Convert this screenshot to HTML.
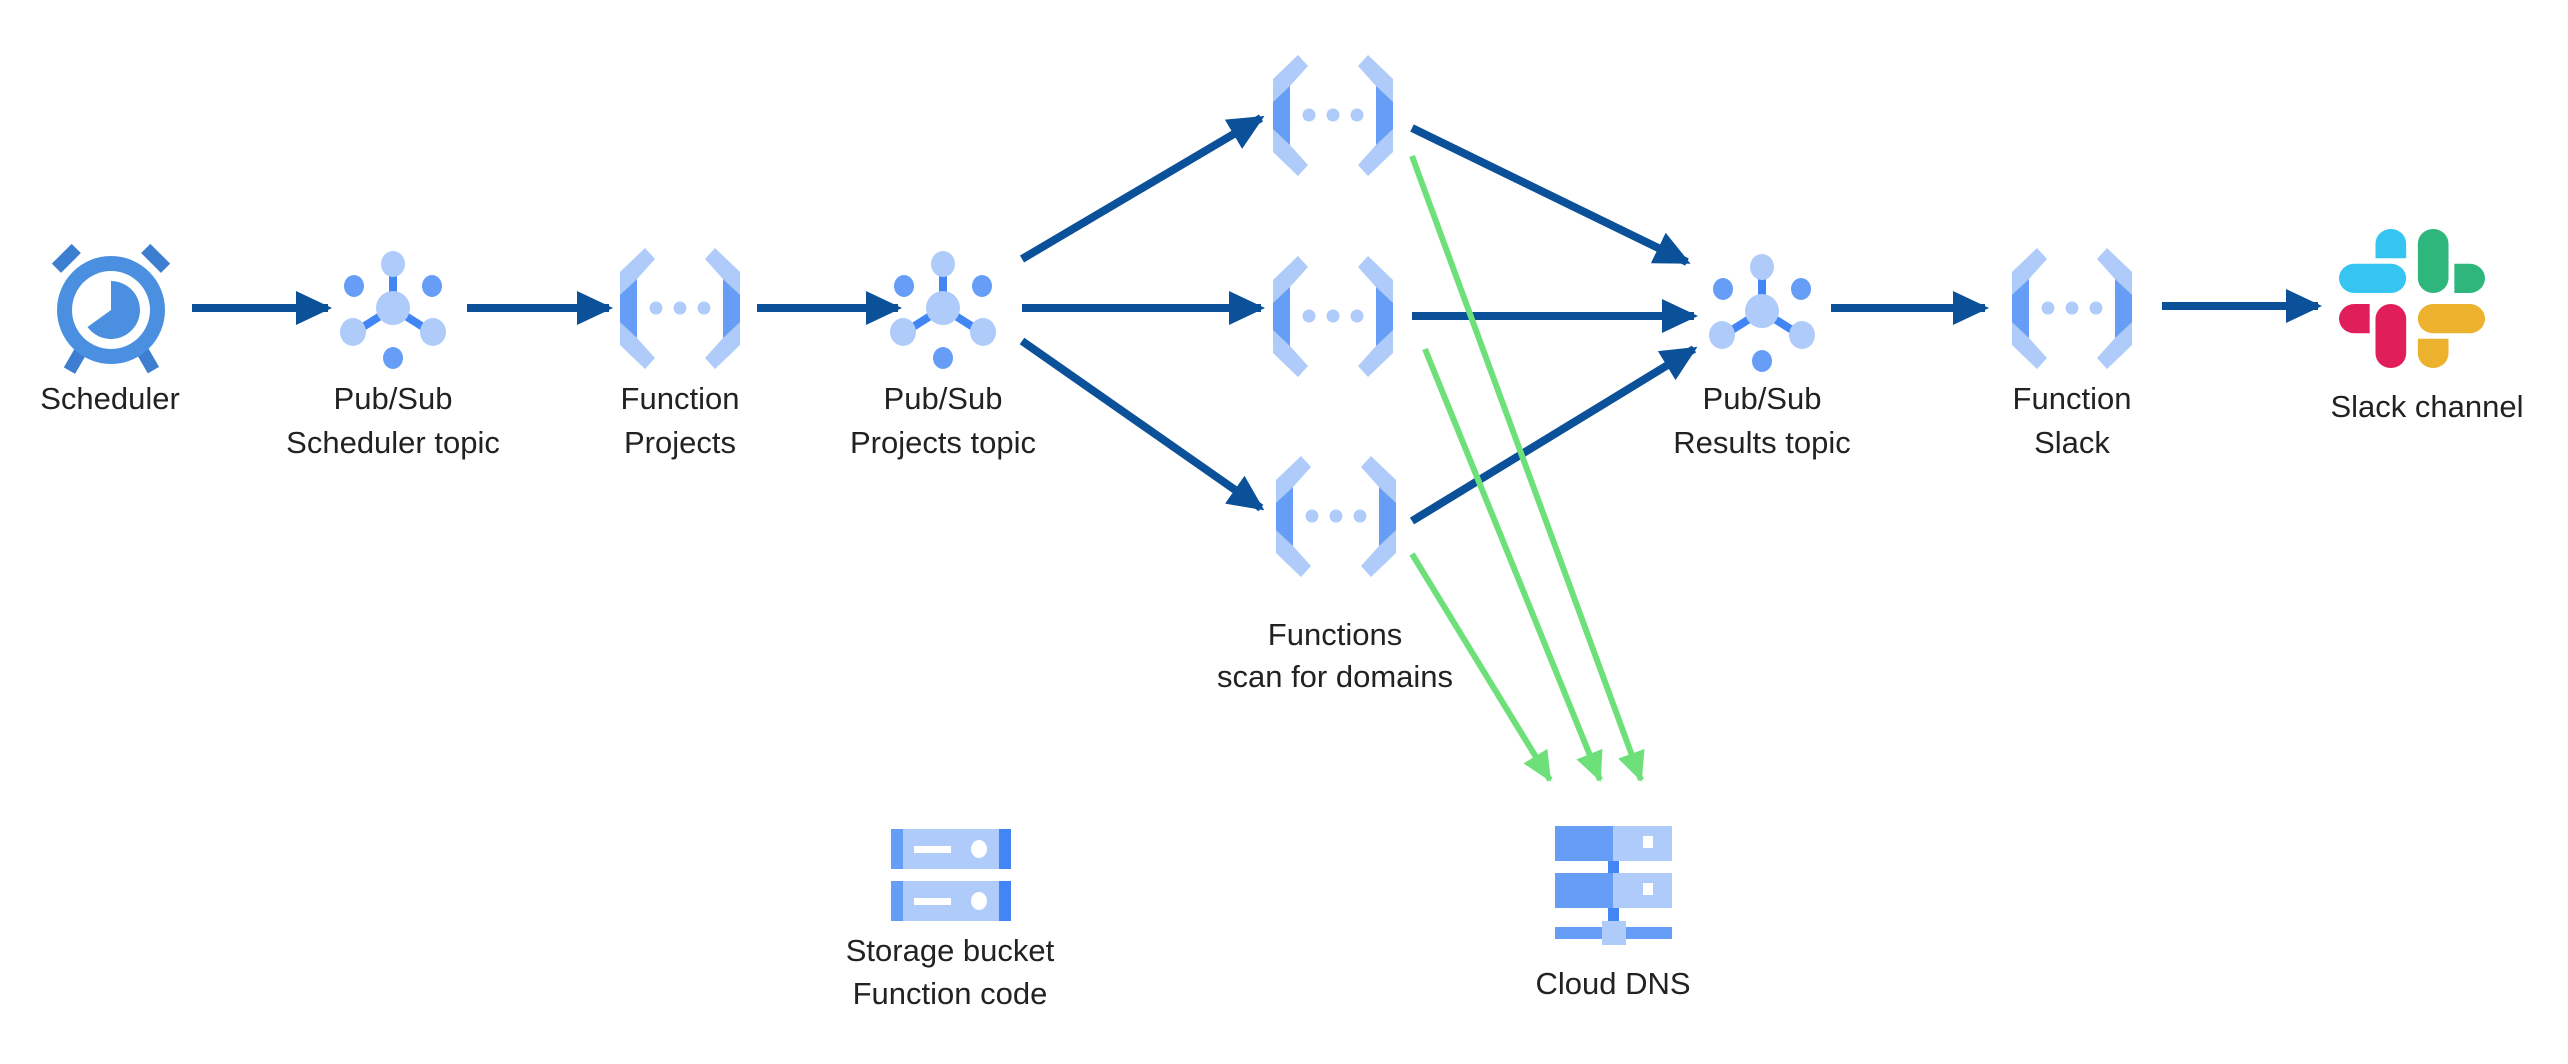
<!DOCTYPE html>
<html><head><meta charset="utf-8"><style>
html,body{margin:0;padding:0;background:#fff;}
svg{display:block;}
text{font-family:"Liberation Sans",sans-serif;font-size:31px;fill:#222;text-anchor:middle;}
</style></head><body>
<svg width="2568" height="1064" viewBox="0 0 2568 1064" xmlns="http://www.w3.org/2000/svg">
<defs>
<marker id="ab" markerUnits="userSpaceOnUse" markerWidth="44" markerHeight="40" refX="32" refY="17" orient="auto"><path d="M0,0 L36,17 L0,34 Z" fill="#0b5199"/></marker>
<marker id="ag" markerUnits="userSpaceOnUse" markerWidth="40" markerHeight="40" refX="28" refY="14" orient="auto"><path d="M0,0 L30,14 L0,28 Z" fill="#6ee07a"/></marker>
<g id="fn">
<polygon points="-60,-36 -35,-60 -25,-49 -43,-29 -43,30 -25,50 -35,61 -60,37" fill="#aecbfa"/>
<polygon points="-43,-29 -60,-13 -60,14 -43,30" fill="#669df6"/>
<polygon points="60,-36 35,-60 25,-49 43,-29 43,30 25,50 35,61 60,37" fill="#aecbfa"/>
<polygon points="43,-29 60,-13 60,14 43,30" fill="#669df6"/>
<circle cx="-24" cy="0" r="6.5" fill="#aecbfa"/><circle cx="0" cy="0" r="6.5" fill="#aecbfa"/><circle cx="24" cy="0" r="6.5" fill="#aecbfa"/>
</g>
<g id="ps">
<rect x="-4" y="-34" width="8" height="20" fill="#4285f4"/>
<line x1="0" y1="0" x2="-38" y2="24" stroke="#4285f4" stroke-width="8"/>
<line x1="0" y1="0" x2="38" y2="24" stroke="#4285f4" stroke-width="8"/>
<circle cx="0" cy="0" r="17" fill="#aecbfa"/>
<ellipse cx="0" cy="-44" rx="12" ry="13" fill="#aecbfa"/>
<ellipse cx="-39" cy="-22" rx="10" ry="11" fill="#669df6"/>
<ellipse cx="39" cy="-22" rx="10" ry="11" fill="#669df6"/>
<ellipse cx="-40" cy="24" rx="13" ry="14" fill="#aecbfa"/>
<ellipse cx="40" cy="24" rx="13" ry="14" fill="#aecbfa"/>
<ellipse cx="0" cy="50" rx="10" ry="11" fill="#669df6"/>
</g>
</defs>

<g transform="translate(111,310)" fill="#4a8fe0">
<rect x="-14" y="-6" width="28" height="13" transform="translate(-45,-52) rotate(-45)" fill="#3d7ed0"/>
<rect x="-14" y="-6" width="28" height="13" transform="translate(45,-52) rotate(45)" fill="#3d7ed0"/>
<rect x="-6" y="-10" width="13" height="22" transform="translate(-36,50) rotate(30)" fill="#3d7ed0"/>
<rect x="-6" y="-10" width="13" height="22" transform="translate(36,50) rotate(-30)" fill="#3d7ed0"/>
<circle r="54"/>
<circle r="39" fill="#fff"/>
<path d="M0,0 L0,-29 A29,29 0 1 1 -23.5,17 Z"/>
</g>
<text x="110" y="409">Scheduler</text>

<g stroke="#0b5199" stroke-width="8" fill="none">
<line x1="192" y1="308" x2="328" y2="308" marker-end="url(#ab)"/>
<line x1="467" y1="308" x2="609" y2="308" marker-end="url(#ab)"/>
<line x1="757" y1="308" x2="898" y2="308" marker-end="url(#ab)"/>
<line x1="1022" y1="259" x2="1261" y2="118" marker-end="url(#ab)"/>
<line x1="1022" y1="308" x2="1261" y2="308" marker-end="url(#ab)"/>
<line x1="1022" y1="341" x2="1261" y2="508" marker-end="url(#ab)"/>
<line x1="1412" y1="128" x2="1687" y2="262" marker-end="url(#ab)"/>
<line x1="1412" y1="316" x2="1694" y2="316" marker-end="url(#ab)"/>
<line x1="1412" y1="521" x2="1694" y2="349" marker-end="url(#ab)"/>
<line x1="1831" y1="308" x2="1985" y2="308" marker-end="url(#ab)"/>
<line x1="2162" y1="306" x2="2318" y2="306" marker-end="url(#ab)"/>
</g>

<g stroke="#6ee07a" stroke-width="6" fill="none">
<line x1="1412" y1="156" x2="1641" y2="780" marker-end="url(#ag)"/>
<line x1="1425" y1="349" x2="1600" y2="780" marker-end="url(#ag)"/>
<line x1="1412" y1="554" x2="1550" y2="780" marker-end="url(#ag)"/>
</g>

<use href="#ps" x="393" y="308"/>
<text x="393" y="409">Pub/Sub</text><text x="393" y="453">Scheduler topic</text>
<use href="#fn" x="680" y="308"/>
<text x="680" y="409">Function</text><text x="680" y="453">Projects</text>
<use href="#ps" x="943" y="308"/>
<text x="943" y="409">Pub/Sub</text><text x="943" y="453">Projects topic</text>

<use href="#fn" x="1333" y="115"/>
<use href="#fn" x="1333" y="316"/>
<use href="#fn" x="1336" y="516"/>
<text x="1335" y="645">Functions</text><text x="1335" y="687">scan for domains</text>

<use href="#ps" x="1762" y="311"/>
<text x="1762" y="409">Pub/Sub</text><text x="1762" y="453">Results topic</text>
<use href="#fn" x="2072" y="308"/>
<text x="2072" y="409">Function</text><text x="2072" y="453">Slack</text>

<g transform="translate(2339,229) scale(1.46,1.39)">
<path d="M25,21 V10.5 A10.5,10.5 0 0 1 46,10.5 V21 Z" fill="#36c5f0"/>
<rect x="0" y="25" width="46" height="21" rx="10.5" fill="#36c5f0"/>
<rect x="54" y="0" width="21" height="46" rx="10.5" fill="#2eb67d"/>
<path d="M79,25 H89.5 A10.5,10.5 0 0 1 89.5,46 H79 Z" fill="#2eb67d"/>
<path d="M21,54 H10.5 A10.5,10.5 0 0 0 10.5,75 H21 Z" fill="#e01e5a"/>
<rect x="25" y="54" width="21" height="46" rx="10.5" fill="#e01e5a"/>
<rect x="54" y="54" width="46" height="21" rx="10.5" fill="#ecb22e"/>
<path d="M54,79 V89.5 A10.5,10.5 0 0 0 75,89.5 V79 Z" fill="#ecb22e"/>
</g>
<text x="2427" y="417">Slack channel</text>

<g>
<rect x="891" y="829" width="120" height="40" fill="#aecbfa"/>
<rect x="891" y="829" width="12" height="40" fill="#669df6"/>
<rect x="999" y="829" width="12" height="40" fill="#4285f4"/>
<rect x="914" y="846" width="37" height="7" fill="#fff"/>
<ellipse cx="979" cy="849" rx="8" ry="9" fill="#fff"/>
<rect x="891" y="881" width="120" height="40" fill="#aecbfa"/>
<rect x="891" y="881" width="12" height="40" fill="#669df6"/>
<rect x="999" y="881" width="12" height="40" fill="#4285f4"/>
<rect x="914" y="898" width="37" height="7" fill="#fff"/>
<ellipse cx="979" cy="901" rx="8" ry="9" fill="#fff"/>
</g>
<text x="950" y="961">Storage bucket</text><text x="950" y="1004">Function code</text>

<g>
<rect x="1608" y="850" width="11" height="80" fill="#4285f4"/>
<rect x="1555" y="826" width="58" height="35" fill="#669df6"/>
<rect x="1613" y="826" width="59" height="35" fill="#aecbfa"/>
<rect x="1643" y="836" width="10" height="12" fill="#fff"/>
<rect x="1555" y="873" width="58" height="35" fill="#669df6"/>
<rect x="1613" y="873" width="59" height="35" fill="#aecbfa"/>
<rect x="1643" y="883" width="10" height="12" fill="#fff"/>
<rect x="1555" y="927" width="117" height="12" fill="#669df6"/>
<rect x="1602" y="921" width="24" height="24" fill="#aecbfa"/>
</g>
<text x="1613" y="994">Cloud DNS</text>
</svg>
</body></html>
